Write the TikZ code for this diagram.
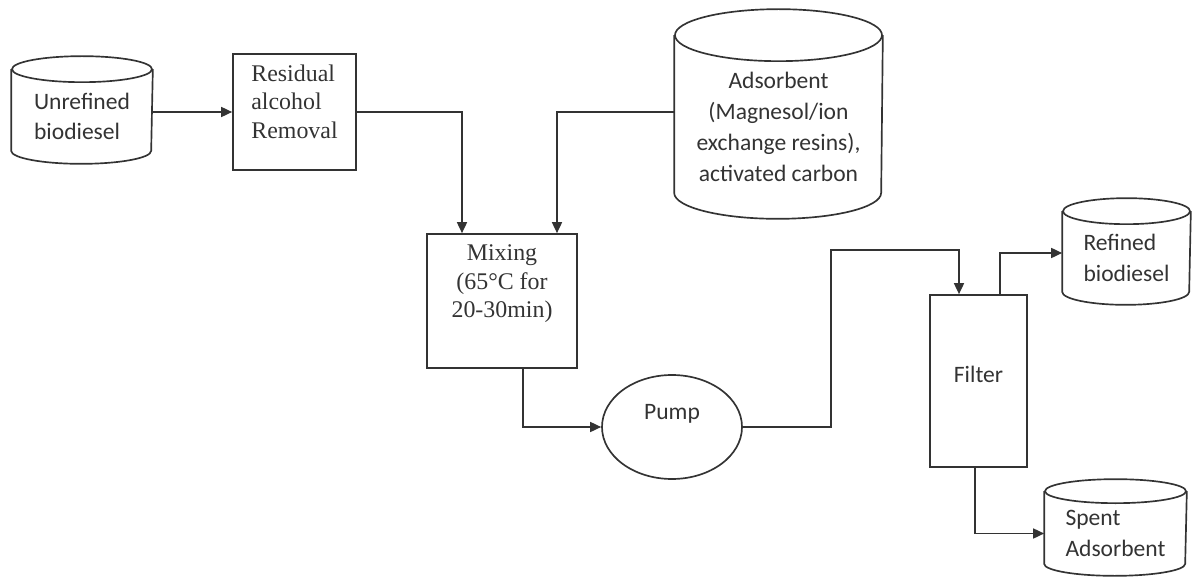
\documentclass[tikz,border=0pt]{standalone}
\usepackage{fontspec}
\setmainfont{Liberation Serif}
\newfontfamily\carlito{Carlito}
\usetikzlibrary{arrows.meta,shapes.geometric}

\begin{document}
\begin{tikzpicture}[line width=0.95pt, color=black!80,
  flow/.style={-{Triangle[length=0.22cm,width=0.2cm]}},
  sans/.style={font=\carlito\fontsize{13.4}{17.5}\selectfont},
  tank/.style={sans, rectangle, align=left},
  procbox/.style={draw, rectangle},
  boxtext/.style={font=\fontsize{13.6}{16.2}\selectfont, anchor=north, yshift=-0.1cm}]
\useasboundingbox (0,0) rectangle (23.84,-11.58);
% storage tanks (body from top ellipse centre down)
\node[tank, minimum width=2.8cm, minimum height=1.86cm] (crude) at (1.64,-2.33) {Unrefined\\biodiesel};
\node[tank, align=center, minimum width=4.14cm, minimum height=3.64cm] (sorb) at (15.57,-2.54) {Adsorbent\\(Magnesol/ion\\exchange resins),\\activated carbon};
\node[tank, minimum width=2.54cm, minimum height=1.84cm] (pure) at (22.53,-5.16) {Refined\\biodiesel};
\node[tank, minimum width=2.82cm, minimum height=1.66cm] (spent) at (22.31,-10.67) {Spent\\Adsorbent};
\foreach \n/\rx/\ry in {crude/1.4/0.26, sorb/2.07/0.52, pure/1.27/0.26, spent/1.41/0.24} {
  \draw (\n.north west) -- ([yshift=\ry cm]\n.south west) arc[start angle=180, end angle=360, x radius=\rx, y radius=\ry] -- (\n.north east);
  \draw (\n.north) ellipse[x radius=\rx, y radius=\ry];
}
% process units
\node[procbox, minimum width=2.46cm, minimum height=2.32cm, label={[boxtext, align=left]north:{Residual\\alcohol\\Removal}}] (clean) at (5.89,-2.24) {};
\node[procbox, minimum width=3.0cm, minimum height=2.68cm, label={[boxtext, align=center]north:{Mixing\\(65°C for\\20-30min)}}] (mix) at (10.04,-6.02) {};
\node[draw, ellipse, sans, minimum width=2.8cm, minimum height=2.08cm, text depth=0.6cm] (pump) at (13.44,-8.54) {Pump};
\node[procbox, sans, minimum width=1.94cm, minimum height=3.44cm, text depth=0.28cm] (filter) at (19.57,-7.62) {Filter};
% flow lines
\draw[flow] (crude.east |- clean.west) -- (clean.west);
\draw[flow] (clean.east) -| ([xshift=-0.8cm]mix.north);
\draw[flow] ([yshift=0.3cm]sorb.west) -| ([xshift=1.1cm]mix.north);
\draw[flow] ([xshift=0.42cm]mix.south) |- (pump.west);
\draw[flow] (pump.east) -- ++(1.76,0) |- ([xshift=-0.39cm,yshift=0.88cm]filter.north) -- ([xshift=-0.39cm]filter.north);
\draw[flow] ([xshift=0.43cm]filter.north) |- ([yshift=0.1cm]pure.west);
\draw[flow] ([xshift=-0.07cm]filter.south) |- (spent.west);
\end{tikzpicture}
\end{document}
